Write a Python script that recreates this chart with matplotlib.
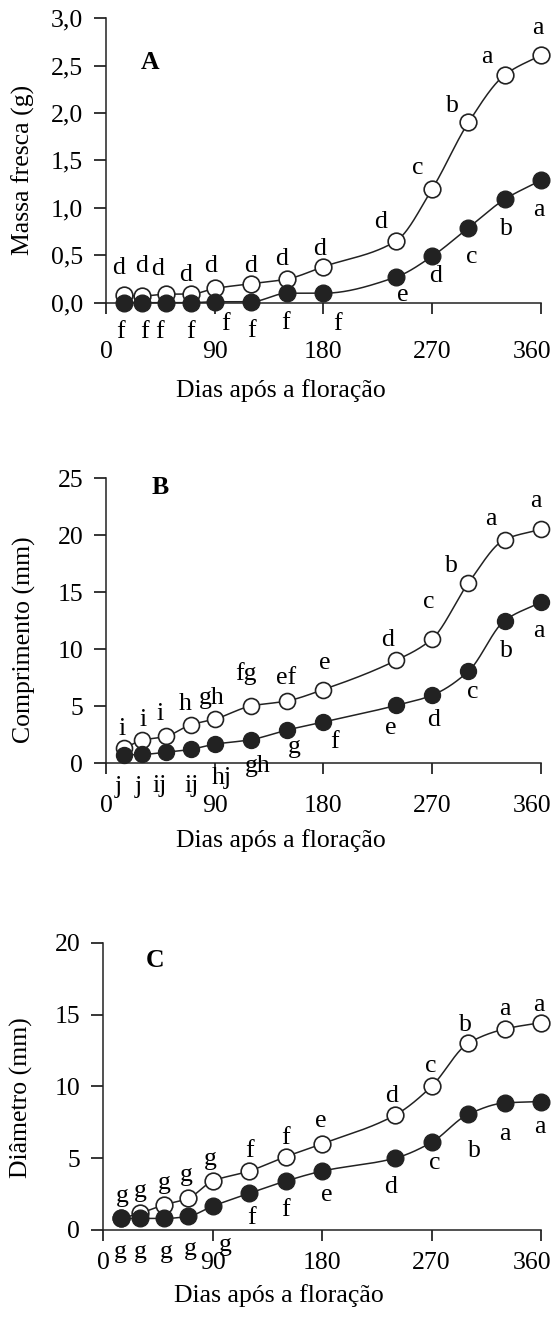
import matplotlib
matplotlib.use("Agg")
import matplotlib.pyplot as plt
import numpy as np

plt.rcParams['font.family'] = ['Liberation Serif', 'DejaVu Serif']

# days after flowering
days = [15, 30, 50, 70, 90, 120, 150, 180, 240, 270, 300, 330, 360]
xtick_vals = [0, 90, 180, 270, 360]

# A - fresh mass (g)
mass_open = [0.08, 0.07, 0.09, 0.09, 0.15, 0.2, 0.25, 0.38, 0.65, 1.2, 1.9, 2.4, 2.61]
mass_fill = [0.0, 0.0, 0.0, 0.0, 0.01, 0.01, 0.1, 0.1, 0.27, 0.49, 0.79, 1.09, 1.29]
mass_open_lbl = ['d', 'd', 'd', 'd', 'd', 'd', 'd', 'd', 'd', 'c', 'b', 'a', 'a']
mass_fill_lbl = ['f', 'f', 'f', 'f', 'f', 'f', 'f', 'f', 'e', 'd', 'c', 'b', 'a']

# B - length (mm)
len_open = [1.3, 2.0, 2.35, 3.35, 3.85, 5.0, 5.45, 6.45, 9.0, 10.9, 15.8, 19.6, 20.5]
len_fill = [0.7, 0.75, 0.95, 1.2, 1.65, 2.05, 2.9, 3.6, 5.05, 5.95, 8.05, 12.5, 14.1]
len_open_lbl = ['i', 'i', 'i', 'h', 'gh', 'fg', 'ef', 'e', 'd', 'c', 'b', 'a', 'a']
len_fill_lbl = ['j', 'j', 'ij', 'ij', 'hj', 'gh', 'g', 'f', 'e', 'd', 'c', 'b', 'a']

# C - diameter (mm)
diam_open = [0.8, 1.15, 1.75, 2.2, 3.4, 4.1, 5.1, 6.0, 8.0, 10.0, 13.0, 14.0, 14.45]
diam_fill = [0.8, 0.8, 0.8, 0.95, 1.65, 2.55, 3.4, 4.1, 5.0, 6.1, 8.05, 8.85, 8.95]
diam_open_lbl = ['g', 'g', 'g', 'g', 'g', 'f', 'f', 'e', 'd', 'c', 'b', 'a', 'a']
diam_fill_lbl = ['g', 'g', 'g', 'g', 'g', 'f', 'f', 'e', 'd', 'c', 'b', 'a', 'a']

# letter offsets in pixels (placement only)
off_A_open = [(-6, 27), (-1, 30), (-9, 25), (-5, 19), (-4, 22), (0, 18), (-6, 20),
              (-4, 18), (-15, 19), (-14, 21), (-16, 16), (-18, 18), (-3, 27)]
off_A_fill = [(-4, -29), (2, -29), (-7, -29), (0, -29), (11, -22), (0, -29), (-2, -30),
              (14, -31), (7, -18), (3, -20), (3, -29), (2, -30), (-2, -30)]
off_B_open = [(-2, 19), (1, 20), (-6, 22), (-5, 21), (-3, 21), (-5, 33), (-1, 23),
              (1, 27), (-8, 20), (-3, 37), (-17, 17), (-14, 21), (-5, 28)]
off_B_fill = [(-6, -32), (-4, -33), (-7, -34), (1, -37), (7, -34), (7, -26), (7, -17),
              (11, -20), (-5, -23), (1, -25), (4, -21), (2, -30), (-2, -29)]
off_C_open = [(1, 22), (1, 22), (0, 22), (-2, 23), (-2, 22), (0, 20), (0, 19),
              (-1, 23), (-3, 19), (-1, 20), (-3, 18), (0, 20), (-2, 18)]
off_C_fill = [(-1, -34), (1, -34), (2, -34), (2, -33), (13, -39), (2, -25), (0, -29),
              (5, -24), (-4, -29), (3, -21), (6, -37), (0, -31), (-1, -25)]

DARK = '#222222'
FS = 18.5
XTICK_LEN = 8


def smooth(x, y, n=500):
    # monotone cubic curve through the points, only for drawing the line
    x = np.asarray(x, float)
    y = np.asarray(y, float)
    h = np.diff(x)
    d = np.diff(y) / h
    m = np.zeros_like(y)
    for k in range(1, len(x) - 1):
        if d[k - 1] * d[k] > 0:
            w1 = 2 * h[k] + h[k - 1]
            w2 = h[k] + 2 * h[k - 1]
            m[k] = (w1 + w2) / (w1 / d[k - 1] + w2 / d[k])
    m[0] = d[0]
    m[-1] = d[-1]
    xs = np.linspace(x[0], x[-1], n)
    i = np.clip(np.searchsorted(x, xs) - 1, 0, len(h) - 1)
    t = (xs - x[i]) / h[i]
    h00 = 2 * t**3 - 3 * t**2 + 1
    h10 = t**3 - 2 * t**2 + t
    h01 = -2 * t**3 + 3 * t**2
    h11 = t**3 - t**2
    ys = h00 * y[i] + h10 * h[i] * m[i] + h01 * y[i + 1] + h11 * h[i] * m[i + 1]
    return xs, ys


def panel(ax, yo, yf, lo, lf, oo, of, ylim, yticks, yfmt, ylabel, letter, ms, xpad):
    xs, ys = smooth(days, yo)
    ax.plot(xs, ys, color=DARK, lw=1.1, clip_on=False, zorder=2)
    ax.plot(days, yo, 'o', ms=ms, mfc='white', mec=DARK, mew=1.2, clip_on=False, zorder=3)
    xs, ys = smooth(days, yf)
    ax.plot(xs, ys, color=DARK, lw=1.1, clip_on=False, zorder=4)
    ax.plot(days, yf, 'o', ms=ms, mfc=DARK, mec=DARK, mew=1.0, clip_on=False, zorder=5)
    for d, v, s, o in zip(days, yo, lo, oo):
        ax.annotate(s, (d, v), xytext=o, textcoords='offset pixels',
                    ha='center', va='center', fontsize=FS)
    for d, v, s, o in zip(days, yf, lf, of):
        ax.annotate(s, (d, v), xytext=o, textcoords='offset pixels',
                    ha='center', va='center', fontsize=FS)
    ax.set_xlim(0, 360)
    ax.set_ylim(*ylim)
    ax.set_xticks(xtick_vals)
    # last label is nudged left so it stays inside the picture
    ax.set_xticklabels([str(v) for v in xtick_vals[:-1]] + [''])
    ax.annotate(str(xtick_vals[-1]), (xtick_vals[-1], ylim[0]),
                xytext=(-6.5, -(XTICK_LEN + xpad)), textcoords='offset points',
                ha='center', va='top', fontsize=FS, annotation_clip=False)
    ax.set_yticks(yticks)
    ax.set_yticklabels([yfmt(v) for v in yticks])
    ax.spines['top'].set_visible(False)
    ax.spines['right'].set_visible(False)
    for sp in ('left', 'bottom'):
        ax.spines[sp].set_linewidth(1.1)
        ax.spines[sp].set_color(DARK)
    ax.tick_params(axis='y', direction='out', length=8.4, width=1.1, labelsize=FS, pad=8)
    ax.tick_params(axis='x', direction='out', length=XTICK_LEN, width=1.1, labelsize=FS, pad=xpad)
    ax.set_ylabel(ylabel, fontsize=FS)
    ax.set_xlabel('Dias após a floração', fontsize=FS)
    ax.text(letter[1], letter[2], letter[0], transform=ax.transAxes, fontsize=FS,
            fontweight='bold', ha='center', va='center')
    return ax


fig = plt.figure(figsize=(5.52, 13.19), dpi=100)

axA = fig.add_axes([0.1920, 0.7705, 0.7880, 0.2158])
panel(axA, mass_open, mass_fill, mass_open_lbl, mass_fill_lbl, off_A_open, off_A_fill,
      (0, 3.0), [0, 0.5, 1.0, 1.5, 2.0, 2.5, 3.0],
      lambda v: ('%.1f' % v).replace('.', ','), 'Massa fresca (g)', ('A', 0.101, 0.845), 12, 19.5)
axA.xaxis.set_label_coords(0.402, -0.268)
axA.yaxis.set_label_coords(-0.163, 0.466)

axB = fig.add_axes([0.1920, 0.4215, 0.7880, 0.2161])
panel(axB, len_open, len_fill, len_open_lbl, len_fill_lbl, off_B_open, off_B_fill,
      (0, 25), [0, 5, 10, 15, 20, 25], lambda v: '%d' % v, 'Comprimento (mm)',
      ('B', 0.124, 0.968), 11.5, 15)
axB.xaxis.set_label_coords(0.402, -0.232)
axB.yaxis.set_label_coords(-0.161, 0.432)

axC = fig.add_axes([0.1866, 0.0675, 0.7935, 0.2176])
panel(axC, diam_open, diam_fill, diam_open_lbl, diam_fill_lbl, off_C_open, off_C_fill,
      (0, 20), [0, 5, 10, 15, 20], lambda v: '%d' % v, 'Diâmetro (mm)',
      ('C', 0.119, 0.94), 12, 8)
axC.xaxis.set_label_coords(0.402, -0.188)
axC.yaxis.set_label_coords(-0.159, 0.46)

fig.savefig('out.png', dpi=100)
